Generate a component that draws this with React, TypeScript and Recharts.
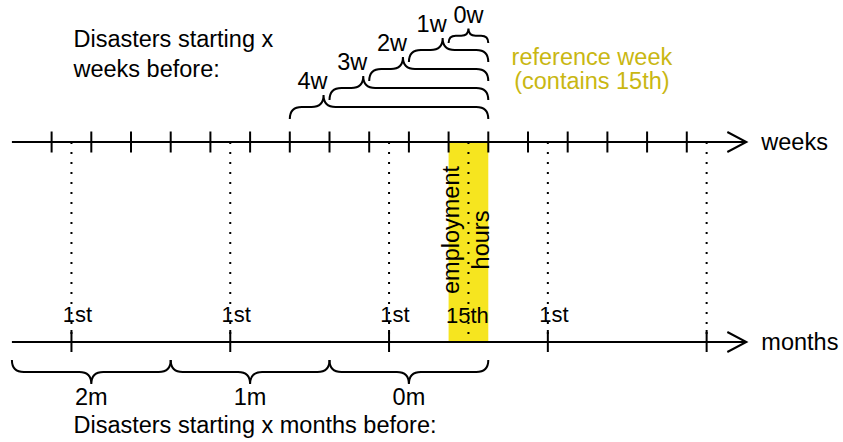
import React from 'react';
import { ComposedChart, XAxis, YAxis, ReferenceLine, ReferenceArea, ReferenceDot } from 'recharts';

// ---- data (x in weeks, 0 = end of reference week) ----
const weekTicks = [-11, -10, -9, -8, -7, -6, -5, -4, -3, -2, -1, 0, 1, 2, 3, 4, 5];
const monthFirsts = [-10.5, -6.5, -2.5, 1.5, 5.5];
const monthFirstLabels = ['1st', '1st', '1st', '1st', ''];
const fifteenth = -0.5;
const fifteenthLabel = '15th';
const referenceWeek = [-1, 0];
const weekBraceLabels = ['4w', '3w', '2w', '1w', '0w'];
const weekBraceStarts = [-5, -4, -3, -2, -1];
const weekBraceEnd = 0;
const monthBraceLabels = ['2m', '1m', '0m'];
const monthBraceStarts = [-12, -8, -4];
const monthBraceEnds = [-8, -4, 0];
const axisRange = [-12, 6.5];
const axisNames = ['weeks', 'months'];
const weekCaption = ['Disasters starting x', 'weeks before:'];
const monthCaption = 'Disasters starting x months before:';
const referenceCaption = ['reference week', '(contains 15th)'];
const shadedCaption = ['employment', 'hours'];

// ---- layout / style ----
const W = 843;
const H = 442;
const X_DOMAIN: [number, number] = [-12.3, 8.935];
const WEEK_Y = 142;
const MONTH_Y = 342;
const FONT = '"Liberation Sans", Arial, Helvetica, sans-serif';
const TEXT = 23.5;
const SMALL = 22;
const YELLOW = '#F6E51F';
const OLIVE = '#C9B712';
const CAPTION_X = -10.45;
const REF_CAPTION_X = 2.61;

const axisShape = (name: string) => (p: any) => {
  const { x1, y1, x2 } = p;
  return (
    <g>
      <line x1={x1} y1={y1} x2={x2} y2={y1} stroke="#000" strokeWidth={2} />
      <polyline points={`${x2 - 19},${y1 - 10} ${x2},${y1} ${x2 - 19},${y1 + 10}`} fill="none" stroke="#000" strokeWidth={2} />
      <text x={x2 + 15} y={y1 + 8} fontSize={TEXT} fontFamily={FONT} fill="#000">{name}</text>
    </g>
  );
};

const braceShape = (label: string, start: number, end: number, dir: number) => (p: any) => {
  const { x1, y1, x2 } = p;
  const width = x2 - x1;
  const pxPerWeek = width / (end - start);
  const r = Math.min(12, width / 5.5);
  const mid = (x1 + x2) / 2;
  const xp = dir < 0 ? x1 + Math.min(0.85 * pxPerWeek, width / 2) : mid;
  const yE = y1;
  const yH = yE + dir * r;
  const yT = yH + dir * r;
  const d = `M${x1},${yE} Q${x1},${yH} ${x1 + r},${yH} L${xp - r},${yH} Q${xp},${yH} ${xp},${yT} Q${xp},${yH} ${xp + r},${yH} L${x2 - r},${yH} Q${x2},${yH} ${x2},${yE}`;
  const lx = dir < 0 ? (Math.abs(xp - mid) < 0.5 ? xp : xp - 11) : xp;
  const ly = dir < 0 ? yT - 6 : yT + 21;
  return (
    <g>
      <path d={d} fill="none" stroke="#000" strokeWidth={2} />
      <text x={lx} y={ly} textAnchor="middle" fontSize={TEXT} fontFamily={FONT} fill="#000">{label}</text>
    </g>
  );
};

const textShape = (label: string, opts: { anchor?: string; dx?: number; size?: number; color?: string } = {}) => (p: any) => (
  <text
    x={p.cx + (opts.dx || 0)}
    y={p.cy}
    textAnchor={opts.anchor || 'start'}
    fontSize={opts.size || TEXT}
    fontFamily={FONT}
    fill={opts.color || '#000'}
  >
    {label}
  </text>
);

const rotatedShape = (p: any) => (
  <g>
    <text transform={`translate(${p.cx - 9.5},230) rotate(-90)`} textAnchor="middle" fontSize={TEXT} fontFamily={FONT} fill="#000">{shadedCaption[0]}</text>
    <text transform={`translate(${p.cx + 20.5},240) rotate(-90)`} textAnchor="middle" fontSize={TEXT} fontFamily={FONT} fill="#000">{shadedCaption[1]}</text>
  </g>
);

export default function App() {
  const data = weekTicks.map((w) => ({ x: w }));
  return (
    <div style={{ position: 'absolute', left: 0, top: 0, background: '#fff' }}>
      <ComposedChart width={W} height={H} data={data} margin={{ top: 0, right: 0, bottom: 0, left: 0 }}>
        <XAxis type="number" dataKey="x" domain={X_DOMAIN} allowDataOverflow hide />
        <YAxis type="number" domain={[0, H]} reversed allowDataOverflow hide />

        <ReferenceArea x1={referenceWeek[0]} x2={referenceWeek[1]} y1={WEEK_Y} y2={MONTH_Y} fill={YELLOW} fillOpacity={1} stroke="none" />

        {[...monthFirsts, fifteenth].map((m, i) => (
          <ReferenceLine key={`dot${i}`} segment={[{ x: m, y: WEEK_Y }, { x: m, y: MONTH_Y }]} stroke="#000" strokeWidth={2} strokeDasharray="2 8" />
        ))}

        <ReferenceLine segment={[{ x: axisRange[0], y: WEEK_Y }, { x: axisRange[1], y: WEEK_Y }]} shape={axisShape(axisNames[0])} />
        <ReferenceLine segment={[{ x: axisRange[0], y: MONTH_Y }, { x: axisRange[1], y: MONTH_Y }]} shape={axisShape(axisNames[1])} />

        {weekTicks.map((w) => (
          <ReferenceLine key={`wt${w}`} segment={[{ x: w, y: WEEK_Y - 10.5 }, { x: w, y: WEEK_Y + 10.5 }]} stroke="#000" strokeWidth={2} />
        ))}
        {monthFirsts.map((m) => (
          <ReferenceLine key={`mt${m}`} segment={[{ x: m, y: MONTH_Y - 12 }, { x: m, y: MONTH_Y + 10 }]} stroke="#000" strokeWidth={2} />
        ))}

        {weekBraceLabels.map((lab, i) => (
          <ReferenceLine
            key={`wb${lab}`}
            segment={[{ x: weekBraceStarts[i], y: 119 - 19 * i }, { x: weekBraceEnd, y: 119 - 19 * i }]}
            shape={braceShape(lab, weekBraceStarts[i], weekBraceEnd, -1)}
          />
        ))}
        {monthBraceLabels.map((lab, i) => (
          <ReferenceLine
            key={`mb${lab}`}
            segment={[{ x: monthBraceStarts[i], y: 360 }, { x: monthBraceEnds[i], y: 360 }]}
            shape={braceShape(lab, monthBraceStarts[i], monthBraceEnds[i], 1)}
          />
        ))}

        {monthFirsts.map((m, i) =>
          monthFirstLabels[i] ? (
            <ReferenceDot key={`ml${i}`} x={m} y={322} shape={textShape(monthFirstLabels[i], { anchor: 'middle', dx: 6, size: SMALL })} />
          ) : null
        )}
        <ReferenceDot x={fifteenth} y={323} shape={textShape(fifteenthLabel, { anchor: 'middle', dx: -1, size: SMALL })} />
        <ReferenceDot x={fifteenth} y={235} shape={rotatedShape} />

        <ReferenceDot x={CAPTION_X} y={47} shape={textShape(weekCaption[0])} />
        <ReferenceDot x={CAPTION_X} y={77} shape={textShape(weekCaption[1])} />
        <ReferenceDot x={CAPTION_X} y={433} shape={textShape(monthCaption)} />
        <ReferenceDot x={REF_CAPTION_X} y={65} shape={textShape(referenceCaption[0], { anchor: 'middle', color: OLIVE })} />
        <ReferenceDot x={REF_CAPTION_X} y={89} shape={textShape(referenceCaption[1], { anchor: 'middle', color: OLIVE })} />
      </ComposedChart>
    </div>
  );
}
